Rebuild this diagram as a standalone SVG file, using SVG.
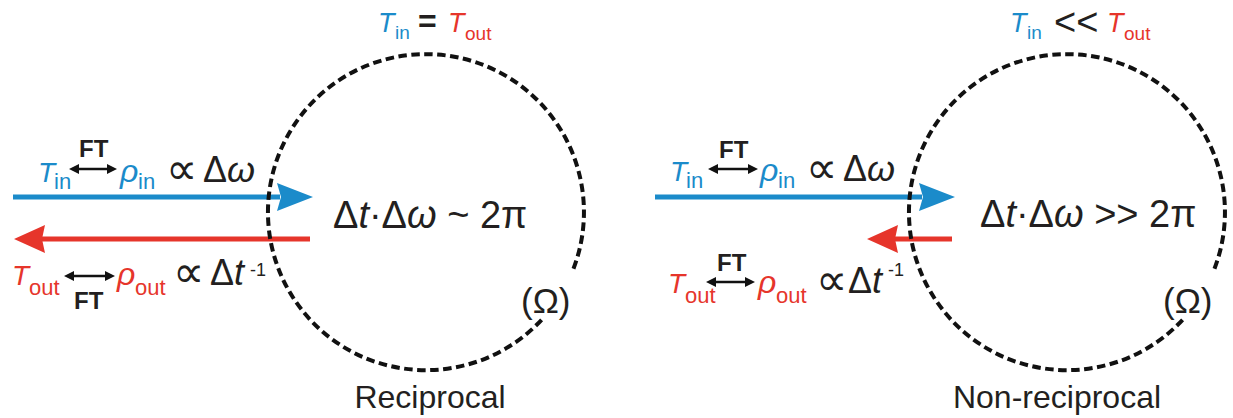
<svg xmlns="http://www.w3.org/2000/svg" width="1233" height="418" viewBox="0 0 1233 418">
<style>
text{font-family:"Liberation Sans",Arial,"DejaVu Sans",sans-serif;fill:#231f20}
.b{fill:#1b8bca}
.r{fill:#e6352b}
.it{font-style:italic}
.T{font-size:28px;font-style:italic}
.Tt{font-size:27px;font-style:italic}
.sub{font-size:22px}
.subt{font-size:19px}
.ft{font-size:24px;font-weight:bold}
.rho{font-size:32px;font-style:italic}
.prop{font-size:44px;font-family:"DejaVu Sans",sans-serif}
.dw{font-size:36px}
.sup{font-size:18px}
.big{font-size:38px}
.lab{font-size:32px;text-anchor:middle}
.om{font-size:35px}
.eq{font-size:32px;font-weight:bold}
.circ{fill:none;stroke:#111;stroke-width:4;stroke-dasharray:8.5 4.5}
.blue{stroke:#1b8bca;stroke-width:5}
.red{stroke:#e6352b;stroke-width:5}
.dbl{stroke:#111;stroke-width:2.5}
</style>
<defs>
<marker id="hb" markerUnits="userSpaceOnUse" markerWidth="40" markerHeight="32" refX="3" refY="15" orient="auto" viewBox="0 0 40 32">
<path d="M0,1 L36,15 L0,29 L4,15 z" fill="#1b8bca"/>
</marker>
<marker id="hr" markerUnits="userSpaceOnUse" markerWidth="34" markerHeight="32" refX="3" refY="15" orient="auto" viewBox="0 0 34 32">
<path d="M0,1 L31,15 L0,29 L3,15 z" fill="#e6352b"/>
</marker>
<marker id="hs" markerUnits="userSpaceOnUse" markerWidth="12" markerHeight="12" refX="2" refY="6" orient="auto-start-reverse" viewBox="0 0 12 12">
<path d="M0,1 L10,6 L0,11 z" fill="#111"/>
</marker>
</defs>

<g id="connectors">
<line class="blue" x1="13" y1="197" x2="280" y2="197" marker-end="url(#hb)"/>
<line class="red" x1="310" y1="239" x2="42" y2="239" marker-end="url(#hr)"/>
<line class="blue" x1="655" y1="197" x2="922" y2="197" marker-end="url(#hb)"/>
<line class="red" x1="952" y1="239" x2="895" y2="239" marker-end="url(#hr)"/>
<line class="dbl" x1="77" y1="169" x2="109" y2="169" marker-start="url(#hs)" marker-end="url(#hs)"/>
<line class="dbl" x1="72" y1="276" x2="107" y2="276" marker-start="url(#hs)" marker-end="url(#hs)"/>
<line class="dbl" x1="716" y1="169" x2="750" y2="169" marker-start="url(#hs)" marker-end="url(#hs)"/>
<line class="dbl" x1="714" y1="282" x2="747" y2="282" marker-start="url(#hs)" marker-end="url(#hs)"/>
</g>

<g id="reciprocal">
<path id="circle-left" class="circ" d="M541.6,319.8 A158,158 0 1 1 572.5,271.2"/>
<g id="cond-left">
<text class="Tt b" x="378" y="32">T</text><text class="subt b" x="395" y="39">in</text>
<text class="eq" x="418" y="32">=</text>
<text class="Tt r" x="448" y="32">T</text><text class="subt r" x="465" y="40">out</text>
</g>
<g id="in-left">
<text class="T b" x="38" y="182">T</text><text class="sub b" x="54" y="189">in</text>
<text class="ft" x="79" y="157">FT</text>
<text class="rho b" x="120" y="182">ρ</text><text class="sub b" x="138" y="189">in</text>
<text class="prop" x="166" y="184">∝</text>
<text class="dw" x="203" y="182">Δ<tspan class="it">ω</tspan></text>
</g>
<g id="out-left">
<text class="T r" x="12" y="285">T</text><text class="sub r" x="29" y="295">out</text>
<text class="ft" x="74" y="309">FT</text>
<text class="rho r" x="117" y="285">ρ</text><text class="sub r" x="135" y="295">out</text>
<text class="prop" x="173" y="287">∝</text>
<text class="dw" x="210" y="285">Δ<tspan class="it">t</tspan></text>
<text class="sup" x="250" y="276">-1</text>
</g>
<text class="big" x="333" y="228">Δ<tspan class="it">t</tspan>·Δ<tspan class="it">ω</tspan> ~ 2π</text>
<text class="om" x="521" y="313">(Ω)</text>
<text class="lab" x="430" y="408">Reciprocal</text>
</g>

<g id="nonreciprocal">
<path id="circle-right" class="circ" d="M1182.6,319.8 A158,158 0 1 1 1213.5,271.2"/>
<g id="cond-right">
<text class="Tt b" x="1010" y="32">T</text><text class="subt b" x="1027" y="39">in</text>
<text style="font-size:38px" x="1054" y="35">&lt;&lt;</text>
<text class="Tt r" x="1107" y="32">T</text><text class="subt r" x="1124" y="40">out</text>
</g>
<g id="in-right">
<text class="T b" x="670" y="181">T</text><text class="sub b" x="686" y="188">in</text>
<text class="ft" x="719" y="158">FT</text>
<text class="rho b" x="760" y="181">ρ</text><text class="sub b" x="778" y="188">in</text>
<text class="prop" x="806" y="183">∝</text>
<text class="dw" x="843" y="181">Δ<tspan class="it">ω</tspan></text>
</g>
<g id="out-right">
<text class="T r" x="668" y="293">T</text><text class="sub r" x="685" y="303">out</text>
<text class="ft" x="717" y="271">FT</text>
<text class="rho r" x="758" y="293">ρ</text><text class="sub r" x="776" y="303">out</text>
<text class="prop" x="816" y="295">∝</text>
<text class="dw" x="848" y="293">Δ<tspan class="it">t</tspan></text>
<text class="sup" x="888" y="276">-1</text>
</g>
<text class="big" x="980" y="227">Δ<tspan class="it">t</tspan>·Δ<tspan class="it">ω</tspan> &gt;&gt; 2π</text>
<text class="om" x="1163" y="313">(Ω)</text>
<text class="lab" x="1057" y="408">Non-reciprocal</text>
</g>
</svg>
